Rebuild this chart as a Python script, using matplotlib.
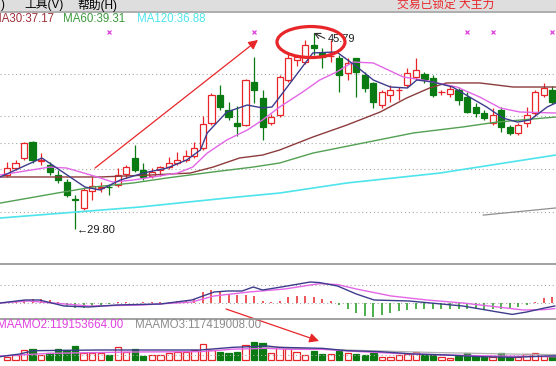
import numpy as np
import matplotlib
matplotlib.use('Agg')
import matplotlib.pyplot as plt
from matplotlib.patches import Ellipse, Rectangle, FancyArrowPatch
from matplotlib.lines import Line2D

plt.rcParams['font.family'] = ['Liberation Sans', 'Noto Sans CJK SC', 'DejaVu Sans']

W, H = 556, 366

##
# Daily candles (price)
##
opens = np.array([34.20, 34.77, 35.59, 36.89, 35.38, 35.02, 34.20, 33.63, 32.24, 31.51,
                  32.89, 33.18, 33.26, 33.38, 34.28, 35.59, 34.61, 34.12, 34.61, 34.85,
                  35.18, 35.43, 35.75, 36.40, 38.44, 40.73, 39.51, 38.44, 38.28, 41.79,
                  40.48, 38.44, 39.10, 41.95, 43.59, 43.42, 44.81, 44.16, 43.87, 43.75,
                  42.53, 43.75, 42.36, 41.71, 39.91, 40.73, 41.10, 41.55, 42.20, 42.45,
                  42.12, 40.97, 40.81, 41.14, 40.56, 39.75, 39.26, 38.44, 39.51, 38.12,
                  37.63, 38.44, 39.26, 40.73, 41.14])
highs = np.array([35.26, 35.43, 36.89, 36.97, 35.99, 35.26, 34.61, 33.87, 32.57, 33.14,
                  34.04, 33.63, 33.38, 34.77, 35.02, 36.65, 35.18, 34.77, 34.93, 35.67,
                  36.08, 36.24, 36.89, 39.01, 40.89, 41.55, 40.16, 39.83, 42.04, 43.83,
                  41.14, 39.18, 42.36, 44.16, 44.00, 45.22, 45.79, 44.56, 45.22, 43.99,
                  43.75, 43.75, 42.61, 41.79, 41.14, 41.55, 41.38, 42.93, 43.75, 42.61,
                  42.36, 41.14, 41.46, 41.38, 40.97, 40.07, 39.51, 39.67, 39.75, 38.28,
                  38.44, 39.75, 41.14, 41.71, 41.46])
lows = np.array([34.04, 34.61, 35.43, 35.18, 35.02, 34.20, 33.55, 32.40, 29.80, 31.35,
                 32.16, 32.81, 32.57, 33.22, 33.96, 34.45, 33.79, 33.96, 34.12, 34.69,
                 35.02, 35.26, 35.59, 36.24, 38.28, 39.51, 38.69, 37.38, 38.20, 40.07,
                 37.06, 38.28, 38.93, 41.79, 43.10, 43.26, 43.99, 42.93, 43.42, 40.97,
                 41.95, 40.56, 40.97, 39.67, 39.67, 40.16, 40.32, 41.38, 41.95, 41.71,
                 40.56, 40.73, 40.56, 39.91, 39.26, 38.93, 38.69, 38.28, 37.71, 37.46,
                 37.46, 38.12, 39.01, 40.56, 40.00])
closes = np.array([34.77, 35.18, 36.81, 35.43, 35.43, 34.45, 33.79, 32.57, 32.16, 32.98,
                   33.30, 33.22, 33.22, 34.20, 34.85, 34.61, 34.04, 34.45, 34.85, 35.18,
                   35.43, 35.75, 36.40, 38.36, 40.73, 39.75, 38.93, 38.20, 41.95, 41.14,
                   38.12, 38.93, 42.20, 43.75, 43.83, 44.81, 44.56, 43.83, 43.91, 42.36,
                   43.34, 42.61, 41.30, 40.16, 40.97, 41.14, 41.14, 42.53, 42.77, 42.04,
                   40.73, 41.01, 41.22, 40.32, 39.34, 39.26, 38.85, 39.10, 38.12, 37.63,
                   38.28, 39.10, 40.97, 41.30, 40.16])

# moving average lines: (bar index, price)
ma5_x = [-0.8, 4.1, 9.15, 10.9, 13.3, 16.0, 18.8, 21.1, 22.7, 23.5, 25.8, 28.2, 30.0, 31.1, 32.0,
         35.9, 38.7, 41.1, 43.0, 45.0, 47.0, 48.1, 50.0, 52.3, 54.3, 56.3, 58.2, 59.9, 61.4, 63.4, 64.4]
ma5_y = [34.04, 35.59, 33.22, 32.98, 33.79, 34.36, 34.77, 35.43, 36.24, 37.63, 39.34, 39.91, 39.67, 39.75, 40.56,
         44.16, 44.24, 43.01, 41.95, 41.38, 41.30, 41.95, 41.79, 41.38, 40.56, 39.75, 38.85, 38.52, 38.69, 39.75, 40.07]
ma10_x = [-0.8, 5.0, 7.0, 10.6, 12.4, 14.8, 17.1, 20.0, 21.8, 23.5, 25.8, 28.2, 30.0, 32.0, 34.7,
          36.7, 38.7, 40.6, 43.0, 46.5, 48.8, 52.8, 55.5, 57.9, 60.2, 64.4]
ma10_y = [34.20, 34.85, 34.77, 34.04, 33.63, 33.79, 34.04, 34.36, 34.85, 35.99, 37.06, 37.87, 38.69, 39.75, 40.97,
          41.95, 42.61, 43.42, 43.34, 42.20, 41.95, 41.38, 40.56, 39.67, 39.34, 39.26]
ma30_x = [-0.8, 10.9, 16.8, 21.5, 24.2, 27.3, 30.0, 32.0, 35.9, 39.9, 43.8, 46.9, 49.6, 51.6, 55.5, 59.4, 64.4]
ma30_y = [34.04, 34.04, 34.20, 34.36, 34.85, 35.59, 35.83, 36.24, 37.30, 38.28, 39.34, 40.48, 41.30, 41.71,
          41.71, 41.38, 41.38]
ma60_x = [-0.8, 5.9, 10.1, 14.8, 18.8, 24.2, 28.9, 32.0, 35.9, 41.8, 47.7, 53.5, 57.5, 64.4]
ma60_y = [31.91, 32.73, 33.22, 33.55, 33.96, 34.45, 34.85, 35.18, 35.99, 36.81, 37.63, 38.12, 38.52, 38.93]
ma120_x = [-0.8, 15.6, 25.8, 32.0, 39.9, 50.8, 64.4]
ma120_y = [30.69, 31.59, 32.32, 32.73, 33.55, 34.36, 35.83]
ma250_x = [55.9, 64.4]
ma250_y = [30.93, 31.51]

grid_prices = [42.44, 39.01, 36.81, 34.69, 31.18]
mark_x = [12, 29, 54, 57, 64]
mark_price = 45.87

##
# Volume (amount, millions) and its averages
##
volume = np.array([36, 60, 120, 132, 60, 84, 132, 120, 168, 84, 84, 84, 60, 156, 96, 132, 48, 60, 60, 84,
                   96, 96, 120, 192, 120, 96, 84, 96, 180, 216, 204, 84, 156, 144, 96, 60, 108, 72, 72, 108,
                   84, 72, 60, 84, 36, 36, 60, 72, 96, 60, 60, 36, 24, 48, 84, 48, 36, 36, 84, 36,
                   36, 72, 84, 48, 48])
vol_ma5_x = [-0.8, 1.5, 3.1, 10.9, 22.7, 26.5, 30.5, 32.0, 37.0, 39.9, 43.8, 47.7, 51.6, 55.5, 59.4, 63.4, 64.4]
vol_ma5 = [40, 72, 112, 120, 120, 152, 168, 152, 140, 112, 100, 72, 60, 40, 32, 48, 50]
vol_ma10_x = [-0.8, 5.0, 14.7, 22.7, 26.5, 30.5, 33.0, 37.0, 41.5, 45.5, 51.6, 57.4, 64.4]
vol_ma10 = [48, 80, 96, 100, 130, 140, 128, 128, 100, 80, 60, 48, 40]
vol_ma20_x = [30.0, 40.0, 50.0, 60.0, 64.4]
vol_ma20 = [150, 120, 90, 70, 65]

##
# MACD
##
macd_hist = np.array([0.05, 0.1, 0.15, 0.2, 0.2, 0.15, 0.05, -0.15, -0.25, -0.25,
                      -0.2, -0.1, -0.05, 0.03, 0.04, 0.02, 0.03, 0.04, 0.05, 0.06,
                      0.08, 0.1, 0.2, 0.55, 0.65, 0.6, 0.45, 0.4, 0.4, 0.35,
                      0.1, 0.05, 0.1, 0.3, 0.35, 0.35, 0.3, 0.2, 0.1, -0.1,
                      -0.3, -0.5, -0.65, -0.7, -0.6, -0.5, -0.4, -0.35, -0.3, -0.3,
                      -0.3, -0.3, -0.3, -0.3, -0.3, -0.3, -0.3, -0.3, -0.3, -0.25,
                      -0.2, -0.1, 0.05, 0.25, 0.3])
dif_x = [-0.8, 2.1, 3.8, 6.7, 9.6, 12.9, 18.0, 21.7, 24.3, 25.9, 27.6, 28.9, 30.0, 32.2, 35.6, 36.7,
         38.8, 41.0, 43.1, 47.2, 53.5, 57.6, 59.3, 61.0, 63.1, 64.3]
dif = [0.0, 0.15, 0.15, -0.15, -0.2, -0.1, -0.05, 0.15, 0.55, 0.6, 0.6, 0.8, 0.65, 0.8, 1.05, 1.02,
       0.85, 0.45, 0.15, 0.1, -0.15, -0.45, -0.57, -0.45, -0.25, -0.15]
dea_x = [-0.8, 2.5, 5.4, 9.6, 15.8, 21.7, 24.3, 28.4, 32.6, 36.7, 38.8, 41.0, 45.1, 49.3, 53.5, 57.6,
         60.6, 63.1, 64.3]
dea = [0.0, 0.1, 0.0, -0.15, -0.1, 0.05, 0.35, 0.55, 0.7, 0.97, 0.92, 0.7, 0.35, 0.15, 0.0, -0.2,
       -0.35, -0.33, -0.28]

RED = '#e8262a'
GREEN = '#0a7a12'
NAVY = '#3c3c8c'
VIOLET = '#e266e6'
BROWN = '#8c3c3c'
MGREEN = '#52a052'
CYAN = '#4ee4ec'
GRID = '#a8a8a8'
XL = (-0.82, 64.44)

fig = plt.figure(figsize=(W / 100, H / 100), dpi=100)


def px_axes(top, bottom):
    a = fig.add_axes([0, 1 - bottom / H, 1, (bottom - top) / H])
    a.set_xlim(XL)
    a.axis('off')
    return a


def fig_text(x, y, s, **kw):
    fig.text(x / W, 1 - y / H, s, va='center', ha='left', **kw)


# top menu strip
fig.add_artist(Rectangle((0, 1 - 11 / H), 1, 11 / H, transform=fig.transFigure,
                         facecolor='#dedede', edgecolor='none'))
fig.add_artist(Line2D([0, 1], [1 - 11.5 / H] * 2, transform=fig.transFigure, color='#a0a0a0', lw=1.2))
fig_text(1, 5, ')', fontsize=8.5, color='black')
fig_text(24, 5, '工具(V)', fontsize=8.5, color='black')
fig_text(77, 5, '帮助(H)', fontsize=8.5, color='black')
fig_text(397, 5, '交易已锁定 大主力', fontsize=8.5, color=RED)

# legend row
fig_text(-8, 19, 'MA30:37.17', fontsize=8.3, color='#a0303c')
fig_text(63, 19, 'MA60:39.31', fontsize=8.3, color='#3c9a3c')
fig_text(137, 19, 'MA120:36.88', fontsize=8.3, color=CYAN)

##
# Price panel
##
ax = px_axes(12, 264)
ax.set_ylim(26.94, 47.50)
for g in grid_prices:
    ax.axhline(g, color=GRID, lw=0.8, ls=(0, (1, 2.5)), zorder=1)

x = np.arange(len(opens))
up = closes >= opens
dn = ~up
bw = 0.72
ax.vlines(x[up], np.maximum(opens, closes)[up], highs[up], color=RED, lw=0.9, zorder=2)
ax.vlines(x[up], lows[up], np.minimum(opens, closes)[up], color=RED, lw=0.9, zorder=2)
ax.bar(x[up], np.maximum(closes - opens, 0.02)[up], bottom=opens[up], width=bw,
       facecolor='white', edgecolor=RED, lw=0.9, zorder=2)
ax.vlines(x[dn], lows[dn], highs[dn], color=GREEN, lw=0.9, zorder=2)
ax.bar(x[dn], np.maximum(opens - closes, 0.02)[dn], bottom=closes[dn], width=bw,
       facecolor=GREEN, edgecolor=GREEN, lw=0.9, zorder=2)

ax.plot(ma250_x, ma250_y, color='#909090', lw=0.9, zorder=3)
ax.plot(ma120_x, ma120_y, color=CYAN, lw=1.2, zorder=3)
ax.plot(ma60_x, ma60_y, color=MGREEN, lw=1.0, zorder=3)
ax.plot(ma30_x, ma30_y, color=BROWN, lw=1.0, zorder=3)
ax.plot(ma10_x, ma10_y, color=VIOLET, lw=1.0, zorder=3)
ax.plot(ma5_x, ma5_y, color=NAVY, lw=1.0, zorder=3)

ax.plot(mark_x, [mark_price] * len(mark_x), ls='none', marker='x', ms=3, mew=0.9, color='#e040e0')

# annotations
ax.add_patch(Ellipse((35.68, 45.05), 7.98, 2.53, fill=False, edgecolor=RED, lw=2.3, zorder=5, clip_on=False))
ax.annotate('', xy=(36.0, 45.79), xytext=(37.3, 45.35),
            arrowprops=dict(arrowstyle='->', color='#303030', lw=0.8, shrinkA=0, shrinkB=0))
ax.text(37.6, 45.30, '45.79', fontsize=8, color='#202020', va='center', ha='left')
ax.text(8.2, 29.71, '←29.80', fontsize=8, color='#202020', va='center', ha='left')
ax.annotate('', xy=(29.46, 45.22), xytext=(10.33, 34.77),
            arrowprops=dict(arrowstyle='-|>', color=RED, lw=0.9, mutation_scale=14,
                            shrinkA=0, shrinkB=0))

##
# MACD panel
##
am = px_axes(264, 319)
am.set_ylim(-0.8, 1.95)
am.axhline(0, color=GRID, lw=0.8, ls=(0, (1, 2.5)))
am.axhline(0.9, color=GRID, lw=0.8, ls=(0, (1, 2.5)))
am.vlines(x, 0, macd_hist, colors=np.where(macd_hist >= 0, RED, '#1a9a1a'), lw=1.1)
am.plot(dea_x, dea, color=VIOLET, lw=1.0)
am.plot(dif_x, dif, color=NAVY, lw=1.0)

##
# Volume panel
##
av = px_axes(319, 366)
av.set_ylim(-72, 492)
av.axhline(60, color=GRID, lw=0.8, ls=(0, (1, 2.5)))
av.bar(x[up], volume[up], width=0.75, facecolor='white', edgecolor=RED, lw=0.9)
av.bar(x[dn], volume[dn], width=0.75, facecolor=GREEN, edgecolor=GREEN, lw=0.9)
av.plot(vol_ma20_x, vol_ma20, color='#b0b0b0', lw=0.9)
av.plot(vol_ma10_x, vol_ma10, color=VIOLET, lw=1.0)
av.plot(vol_ma5_x, vol_ma5, color=NAVY, lw=1.0)

fig_text(-3, 325, 'MAAMO2:119153664.00', fontsize=8.3, color='#e040e0')
fig_text(135, 325, 'MAAMO3:117419008.00', fontsize=8.3, color='#8c8c8c')

# panel separators
for yy in (264, 319):
    fig.add_artist(Line2D([0, 1], [1 - yy / H] * 2, transform=fig.transFigure, color='#9a9a9a', lw=1.3))

# second red arrow over the lower panels
fig.add_artist(FancyArrowPatch(
    (226 / W, 1 - 309 / H), (319 / W, 1 - 341 / H), transform=fig.transFigure,
    arrowstyle='-|>', color=RED, lw=0.9, mutation_scale=14, shrinkA=0, shrinkB=0))

fig.savefig('out.png', dpi=100)
